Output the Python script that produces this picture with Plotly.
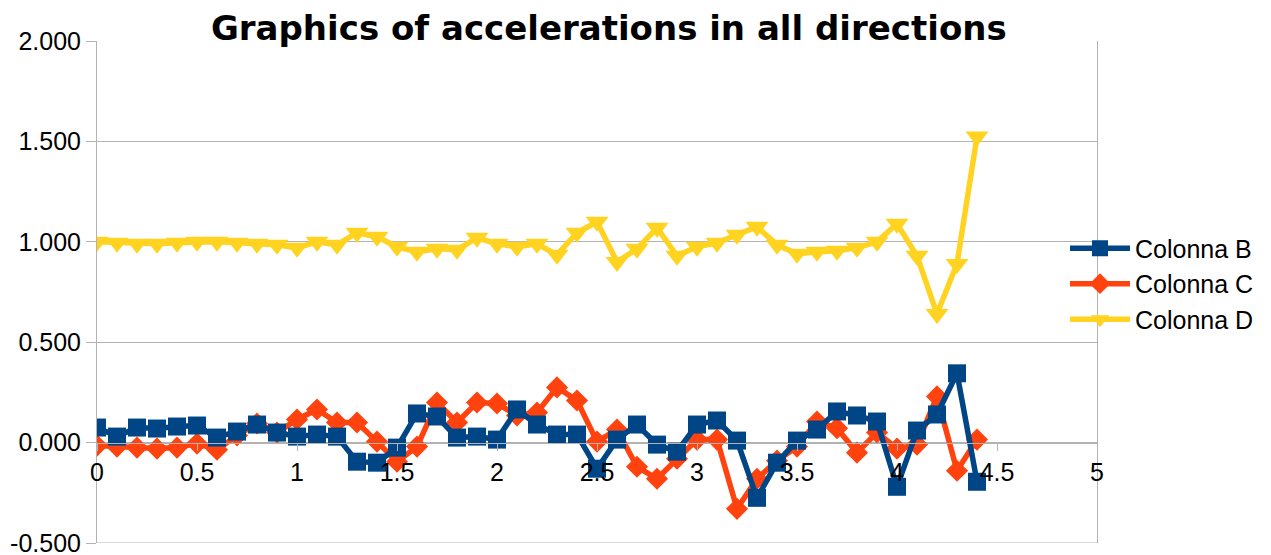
import plotly.graph_objects as go

# Sample times (s)
t = [round(i * 0.1, 1) for i in range(45)]

colonna_b = [0.075, 0.03, 0.075, 0.07, 0.08, 0.085, 0.025, 0.055, 0.09, 0.05,
             0.03, 0.04, 0.03, -0.095, -0.10, -0.025, 0.145, 0.13, 0.025, 0.03,
             0.015, 0.165, 0.09, 0.04, 0.04, -0.13, 0.015, 0.09, -0.01, -0.045,
             0.09, 0.11, 0.01, -0.275, -0.10, 0.01, 0.065, 0.155, 0.135, 0.105,
             -0.22, 0.06, 0.14, 0.345, -0.195]

colonna_c = [-0.015, -0.02, -0.025, -0.03, -0.025, -0.005, -0.035, 0.035, 0.095, 0.05,
             0.115, 0.165, 0.1, 0.1, 0.005, -0.095, -0.02, 0.2, 0.1, 0.2,
             0.195, 0.135, 0.15, 0.275, 0.21, 0.005, 0.065, -0.12, -0.18, -0.08,
             0.015, 0.015, -0.33, -0.18, -0.09, -0.02, 0.105, 0.072, -0.05, 0.05,
             -0.03, -0.01, 0.23, -0.14, 0.015]

colonna_d = [1.00, 0.995, 0.99, 0.99, 0.995, 1.0, 1.0, 0.995, 0.99, 0.985,
             0.97, 1.0, 0.985, 1.045, 1.025, 0.975, 0.95, 0.965, 0.96, 1.02,
             0.99, 0.975, 0.99, 0.935, 1.045, 1.10, 0.90, 0.965, 1.07, 0.93,
             0.975, 0.995, 1.035, 1.075, 0.985, 0.94, 0.95, 0.955, 0.97, 1.00,
             1.09, 0.93, 0.64, 0.89, 1.525]

x_ticks = [0, 0.5, 1, 1.5, 2, 2.5, 3, 3.5, 4, 4.5, 5]
y_ticks = [-0.5, 0, 0.5, 1.0, 1.5, 2.0]

BLUE = "#004586"
ORANGE = "#ff420e"
YELLOW = "#ffd320"
GRID = "#b3b3b3"

fig = go.Figure()

# Drawn last-to-first so that Colonna B sits on top
fig.add_trace(go.Scatter(
    x=t, y=colonna_d, name="Colonna D", mode="lines+markers",
    line=dict(color=YELLOW, width=5.5),
    marker=dict(symbol="triangle-down", size=20, color=YELLOW),
))
fig.add_trace(go.Scatter(
    x=t, y=colonna_c, name="Colonna C", mode="lines+markers",
    line=dict(color=ORANGE, width=5.5),
    marker=dict(symbol="diamond", size=17, color=ORANGE),
))
fig.add_trace(go.Scatter(
    x=t, y=colonna_b, name="Colonna B", mode="lines+markers",
    line=dict(color=BLUE, width=5.5),
    marker=dict(symbol="square", size=18, color=BLUE),
))

# Bottom edge of the plot area (lowest grid line)
fig.add_shape(type="line", xref="x domain", yref="y",
              x0=0, x1=1, y0=y_ticks[0], y1=y_ticks[0],
              line=dict(color=GRID, width=1), layer="below")

fig.update_layout(
    width=1271, height=555,
    margin=dict(l=97, r=174, t=41, b=12),
    paper_bgcolor="white", plot_bgcolor="white",
    font=dict(family="Liberation Sans", size=25, color="black"),
    title=dict(
        text="<b>Graphics of accelerations in all directions</b>",
        font=dict(family="DejaVu Sans", size=34, color="black"),
        x=0.479, xanchor="center", y=0.95, yanchor="middle",
    ),
    showlegend=True,
    legend=dict(
        x=0.968, xanchor="left", y=0.516, yanchor="middle",
        traceorder="reversed", bgcolor="rgba(0,0,0,0)",
        font=dict(family="Liberation Sans", size=25),
        itemwidth=60, tracegroupgap=0,
    ),
    xaxis=dict(
        range=[0, 5], tickvals=x_ticks, ticktext=[f"{v:g}" for v in x_ticks],
        anchor="free", position=0.2, automargin=False,
        showgrid=False, zeroline=False,
        showline=True, linecolor=GRID, linewidth=1,
        ticks="outside", ticklen=7, tickcolor=GRID,
        tickfont=dict(size=25),
    ),
    yaxis=dict(
        range=[-0.5, 2.0], tickvals=y_ticks, automargin=False,
        ticktext=[f"{v:.3f}" for v in y_ticks],
        ticklabeloverflow="allow",
        showgrid=True, gridcolor=GRID, gridwidth=1,
        zeroline=False,
        showline=True, linecolor=GRID, linewidth=1, mirror=True,
        ticks="outside", ticklen=10, tickcolor=GRID,
        tickfont=dict(size=25),
    ),
)

fig.write_html("out.html")
